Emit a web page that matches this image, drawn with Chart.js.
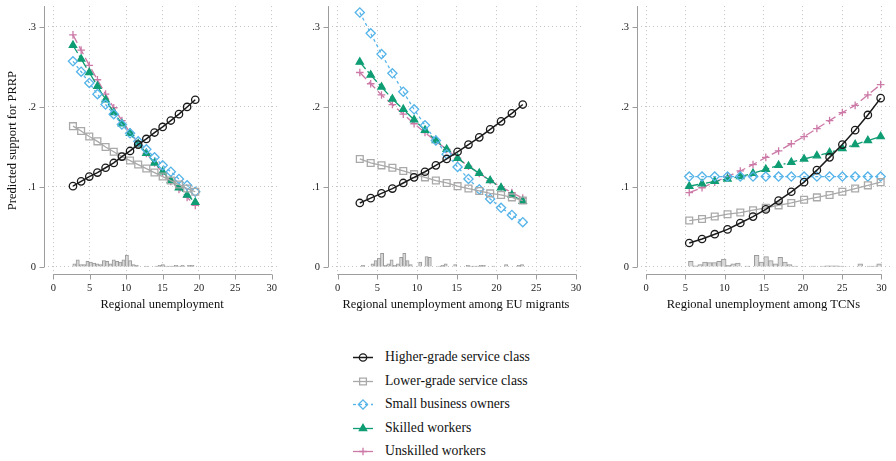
<!DOCTYPE html>
<html>
<head>
<meta charset="utf-8">
<script src="https://cdn.jsdelivr.net/npm/chart.js@4.4.0/dist/chart.umd.min.js"></script>
<style>
  html, body { margin: 0; padding: 0; background: #fff; }
  #wrap { position: relative; width: 896px; height: 461px; overflow: hidden; font-family: "Liberation Serif", "Times New Roman", serif; }
  canvas.panel { position: absolute; top: 0; }
  #legendSym { position: absolute; left: 340px; top: 340px; }
  .leg { position: absolute; left: 385px; font-size: 13.7px; line-height: 16px; color: #111; white-space: nowrap; }
</style>
</head>
<body>
<div id="wrap">
  <canvas id="p1" class="panel" width="295" height="320" style="left:0px"></canvas>
  <canvas id="p2" class="panel" width="295" height="320" style="left:295px"></canvas>
  <canvas id="p3" class="panel" width="306" height="320" style="left:590px"></canvas>
  <canvas id="legendSym" width="45" height="121"></canvas>
  <div id="legend"></div>
</div>
<script>
// ---- data ----
const seriesNames = ['Higher-grade service class', 'Lower-grade service class', 'Small business owners', 'Skilled workers', 'Unskilled workers'];
const xTicks = [0, 5, 10, 15, 20, 25, 30];
const yTicks = [0, 0.1, 0.2, 0.3];
const xTitles = ['Regional unemployment', 'Regional unemployment among EU migrants', 'Regional unemployment among TCNs'];

// panel 1: regional unemployment
const x1 = [2.7, 3.82, 4.94, 6.06, 7.18, 8.3, 9.42, 10.54, 11.66, 12.78, 13.9, 15.02, 16.14, 17.26, 18.38, 19.5];
const higher1 = [0.101, 0.107, 0.113, 0.118, 0.124, 0.130, 0.138, 0.145, 0.153, 0.160, 0.168, 0.175, 0.183, 0.191, 0.200, 0.209];
const lower1 = [0.176, 0.170, 0.163, 0.157, 0.150, 0.144, 0.138, 0.133, 0.128, 0.123, 0.118, 0.113, 0.108, 0.103, 0.098, 0.094];
const small1 = [0.257, 0.244, 0.230, 0.216, 0.203, 0.191, 0.178, 0.167, 0.157, 0.147, 0.137, 0.127, 0.119, 0.110, 0.102, 0.094];
const skilled1 = [0.277, 0.260, 0.243, 0.226, 0.209, 0.193, 0.179, 0.167, 0.154, 0.142, 0.130, 0.119, 0.108, 0.099, 0.090, 0.081];
const unskilled1 = [0.290, 0.271, 0.252, 0.234, 0.216, 0.199, 0.183, 0.168, 0.155, 0.142, 0.130, 0.118, 0.107, 0.097, 0.087, 0.077];
const histX1 = [2.9, 3.35, 3.8, 4.25, 4.7, 5.15, 5.6, 6.05, 6.5, 6.95, 7.4, 7.85, 8.3, 8.75, 9.2, 9.65, 10.1, 10.55, 11.0, 11.45, 12.8, 14.15, 14.6, 15.05, 15.5, 15.95, 16.4, 16.85, 17.3, 17.75, 18.65, 19.1];
const histY1 = [0.004, 0.009, 0.003, 0.003, 0.007, 0.006, 0.005, 0.004, 0.003, 0.008, 0.007, 0.004, 0.009, 0.007, 0.006, 0.009, 0.015, 0.008, 0.003, 0.002, 0.001, 0.001, 0.002, 0.003, 0.001, 0.001, 0.001, 0.002, 0.001, 0.002, 0.002, 0.002];

// panel 2: unemployment among EU migrants
const x2 = [2.8, 4.17, 5.53, 6.9, 8.27, 9.63, 11.0, 12.37, 13.73, 15.1, 16.47, 17.83, 19.2, 20.57, 21.93, 23.3];
const higher2 = [0.080, 0.086, 0.092, 0.098, 0.105, 0.112, 0.119, 0.127, 0.135, 0.144, 0.153, 0.162, 0.172, 0.182, 0.192, 0.203];
const lower2 = [0.135, 0.130, 0.127, 0.124, 0.120, 0.116, 0.112, 0.108, 0.105, 0.101, 0.098, 0.095, 0.092, 0.090, 0.087, 0.083];
const small2 = [0.318, 0.292, 0.266, 0.242, 0.219, 0.197, 0.177, 0.158, 0.141, 0.125, 0.110, 0.097, 0.085, 0.074, 0.065, 0.056];
const skilled2 = [0.256, 0.240, 0.225, 0.210, 0.197, 0.184, 0.171, 0.158, 0.147, 0.136, 0.126, 0.117, 0.108, 0.099, 0.090, 0.082];
const unskilled2 = [0.243, 0.229, 0.215, 0.203, 0.191, 0.179, 0.168, 0.157, 0.147, 0.136, 0.126, 0.117, 0.108, 0.100, 0.093, 0.086];
const histX2 = [3.2, 4.4, 4.8, 5.2, 5.6, 6.0, 6.4, 6.8, 7.2, 7.6, 8.0, 8.4, 8.8, 9.2, 10.4, 11.2, 11.6, 12.8, 13.2, 13.6, 14.8, 16.4, 16.8, 17.2, 17.6, 18.0, 18.4, 19.6, 21.2, 22.8, 23.2];
const histY2 = [0.002, 0.004, 0.008, 0.011, 0.017, 0.002, 0.004, 0.009, 0.002, 0.004, 0.012, 0.017, 0.008, 0.003, 0.006, 0.013, 0.012, 0.001, 0.002, 0.004, 0.003, 0.002, 0.001, 0.001, 0.001, 0.002, 0.002, 0.001, 0.003, 0.002, 0.003];

// panel 3: unemployment among TCNs
const x3 = [5.5, 7.13, 8.75, 10.38, 12.01, 13.63, 15.26, 16.89, 18.51, 20.14, 21.77, 23.39, 25.02, 26.65, 28.27, 29.9];
const higher3 = [0.030, 0.035, 0.041, 0.047, 0.055, 0.063, 0.072, 0.083, 0.094, 0.106, 0.121, 0.137, 0.153, 0.171, 0.190, 0.211];
const lower3 = [0.058, 0.060, 0.063, 0.066, 0.068, 0.071, 0.074, 0.077, 0.080, 0.084, 0.087, 0.090, 0.094, 0.098, 0.102, 0.106];
const small3 = [0.113, 0.113, 0.113, 0.113, 0.113, 0.113, 0.113, 0.113, 0.113, 0.113, 0.113, 0.113, 0.113, 0.113, 0.113, 0.113];
const skilled3 = [0.101, 0.104, 0.107, 0.110, 0.113, 0.117, 0.122, 0.127, 0.131, 0.135, 0.139, 0.143, 0.148, 0.153, 0.158, 0.163];
const unskilled3 = [0.093, 0.099, 0.106, 0.113, 0.120, 0.128, 0.137, 0.145, 0.154, 0.163, 0.173, 0.183, 0.193, 0.202, 0.215, 0.228];
const histX3 = [5.7, 6.3, 6.9, 7.5, 8.1, 8.7, 9.3, 9.9, 10.5, 11.1, 11.7, 12.9, 14.1, 14.7, 15.3, 15.9, 16.5, 17.1, 17.7, 18.3, 18.9, 20.1, 21.3, 22.5, 23.1, 23.7, 24.3, 24.9, 25.5, 27.3, 28.5, 29.1, 29.7];
const histY3 = [0.007, 0.0015, 0.003, 0.006, 0.0055, 0.0055, 0.007, 0.010, 0.002, 0.004, 0.005, 0.001, 0.0145, 0.006, 0.013, 0.008, 0.004, 0.012, 0.006, 0.003, 0.001, 0.0006, 0.001, 0.001, 0.0015, 0.0015, 0.0015, 0.001, 0.0006, 0.004, 0.001, 0.001, 0.004];

// ---- styles ----
const styles = [
  { color: '#1a1a1a', dash: [], point: 'circle', radius: 3.7, fill: false, width: 1.5 },
  { color: '#a9a9a9', dash: [], point: 'rect', radius: 4.8, fill: false, width: 1.3 },
  { color: '#56b4e9', dash: [3, 3], point: 'rectRot', radius: 4.6, fill: false, width: 1.3 },
  { color: '#0f9d74', dash: [9, 3, 2, 3], point: 'triangle', radius: 4.2, fill: true, width: 1.3 },
  { color: '#cc79a7', dash: [9, 4], point: 'cross', radius: 3.8, fill: false, width: 1.3 }
];

const serif = '"Liberation Serif", "Times New Roman", serif';

// offset axis lines and tick marks (Stata look)
const axisLines = {
  id: 'axisLines',
  beforeDatasetsDraw(chart) {
    const { ctx, chartArea, scales: { x, y } } = chart;
    ctx.save();
    ctx.strokeStyle = '#9d9d9d';
    ctx.lineWidth = 1;
    ctx.setLineDash([]);
    ctx.beginPath();
    const yb = Math.round(chartArea.bottom) - 0.5;
    ctx.moveTo(x.getPixelForValue(0), yb);
    ctx.lineTo(x.getPixelForValue(30), yb);
    x.ticks.forEach(t => {
      const px = Math.round(x.getPixelForValue(t.value)) + 0.5;
      ctx.moveTo(px, yb);
      ctx.lineTo(px, yb + 5);
    });
    const xl = Math.round(chartArea.left) + 0.5;
    ctx.moveTo(xl, y.getPixelForValue(0));
    ctx.lineTo(xl, chartArea.top);
    y.ticks.forEach(t => {
      const py = Math.round(y.getPixelForValue(t.value)) + 0.5;
      ctx.moveTo(xl, py);
      ctx.lineTo(xl - 5, py);
    });
    ctx.stroke();
    ctx.restore();
  }
};

function makePanel(id, xs, series, histX, histY, cfg) {
  const datasets = series.map((vals, i) => ({
    label: seriesNames[i],
    data: xs.map((x, k) => ({ x: x, y: vals[k] })),
    borderColor: styles[i].color,
    borderWidth: styles[i].width,
    borderDash: styles[i].dash,
    pointStyle: styles[i].point,
    pointRadius: styles[i].radius,
    pointBorderColor: styles[i].color,
    pointBackgroundColor: styles[i].fill ? styles[i].color : 'rgba(0,0,0,0)',
    pointBorderWidth: 1.3,
    tension: 0,
    fill: false,
    order: i
  }));
  datasets.push({
    type: 'bar',
    label: 'hist',
    data: histX.map((x, k) => ({ x: x, y: histY[k] })),
    backgroundColor: '#d8d8d8',
    borderColor: '#9a9a9a',
    borderWidth: 1,
    barPercentage: 1,
    categoryPercentage: 1,
    order: 10
  });

  new Chart(document.getElementById(id), {
    type: 'line',
    data: { datasets: datasets },
    options: {
      responsive: false,
      animation: false,
      devicePixelRatio: 1,
      layout: { padding: { top: 5, right: cfg.padRight, left: 0, bottom: 0 } },
      plugins: { legend: { display: false }, tooltip: { enabled: false } },
      scales: {
        x: {
          type: 'linear',
          offset: false,
          min: cfg.xMin,
          max: cfg.xMax,
          afterBuildTicks: s => { s.ticks = xTicks.map(v => ({ value: v })); },
          afterFit: s => { s.height = 45; s.paddingLeft = 0; s.paddingRight = 0; },
          border: { display: false, dash: [1, 3] },
          grid: { color: '#c4c4c4', lineWidth: 1, drawTicks: false, offset: false },
          ticks: { padding: 7, color: '#222', font: { family: serif, size: 10.5 }, maxRotation: 0, callback: v => String(v) },
          title: { display: true, text: cfg.title, color: '#111', font: { family: serif, size: 12.5 }, padding: { top: 0, bottom: 7.5 } }
        },
        y: {
          min: -0.01,
          max: 0.326,
          afterBuildTicks: s => { s.ticks = yTicks.map(v => ({ value: v })); },
          afterFit: s => { s.width = cfg.yWidth; s.paddingTop = 0; s.paddingBottom = 0; },
          border: { display: false, dash: [1, 3] },
          grid: { color: '#c4c4c4', lineWidth: 1, drawTicks: false },
          ticks: {
            padding: 8, color: '#222', font: { family: serif, size: 10.5 },
            callback: v => v === 0 ? '0' : String(Math.round(v * 10) / 10).replace(/^0/, '')
          },
          title: { display: !!cfg.yTitle, text: cfg.yTitle || '', color: '#111', font: { family: serif, size: 12.5 }, padding: { top: 5.5, bottom: 0 } }
        }
      }
    },
    plugins: [axisLines]
  });
}

makePanel('p1', x1, [higher1, lower1, small1, skilled1, unskilled1], histX1, histY1,
  { xMin: -1.28, xMax: 31.14, yWidth: 44, padRight: 15, title: xTitles[0], yTitle: 'Predicted support for PRRP' });
makePanel('p2', x2, [higher2, lower2, small2, skilled2, unskilled2], histX2, histY2,
  { xMin: -1.2, xMax: 30.99, yWidth: 33, padRight: 2, title: xTitles[1] });
makePanel('p3', x3, [higher3, lower3, small3, skilled3, unskilled3], histX3, histY3,
  { xMin: -1.16, xMax: 31.08, yWidth: 47, padRight: 0, title: xTitles[2] });

// ---- legend ----
const legendRows = [17, 41, 64, 88, 111];
const lc = document.getElementById('legendSym').getContext('2d');
const legendDiv = document.getElementById('legend');
seriesNames.forEach((name, i) => {
  const st = styles[i];
  const cy = legendRows[i] + 0.5;
  lc.save();
  lc.strokeStyle = st.color;
  lc.lineWidth = st.width;
  lc.setLineDash(i === 2 ? [3, 3] : []);
  lc.beginPath();
  lc.moveTo(13, cy);
  lc.lineTo(33, cy);
  lc.stroke();
  lc.restore();
  lc.save();
  lc.strokeStyle = st.color;
  lc.fillStyle = st.fill ? st.color : 'rgba(0,0,0,0)';
  lc.lineWidth = 1.3;
  Chart.helpers.drawPoint(lc, { pointStyle: st.point, radius: st.radius, rotation: 0, borderWidth: 1.3 }, 23, cy);
  lc.restore();

  const d = document.createElement('div');
  d.className = 'leg';
  d.style.top = (340 + legendRows[i] - 8) + 'px';
  d.textContent = name;
  legendDiv.appendChild(d);
});
</script>
</body>
</html>
